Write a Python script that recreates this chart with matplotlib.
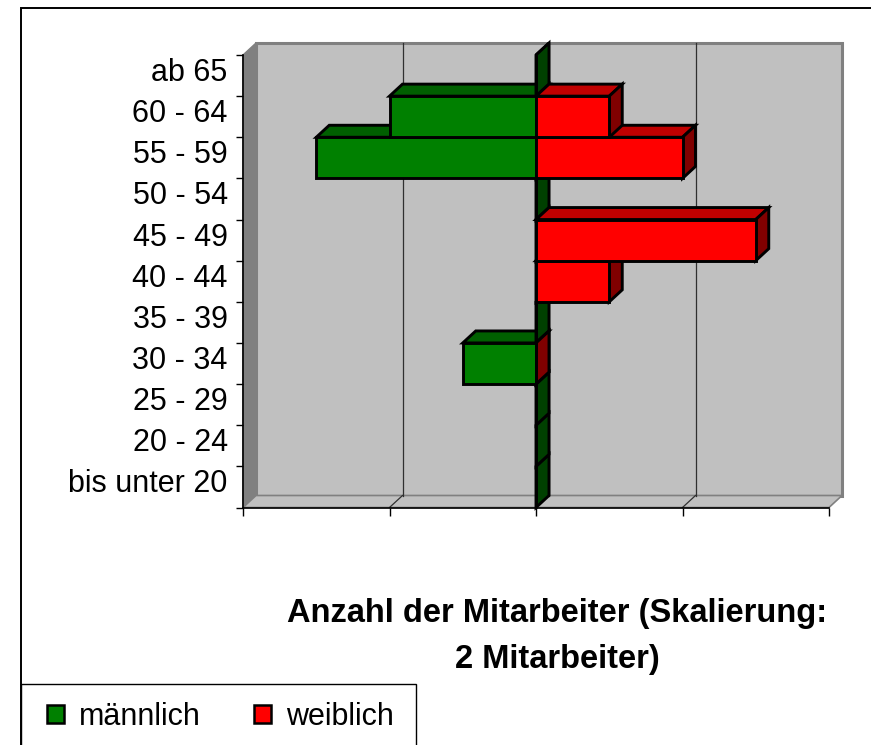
import matplotlib
matplotlib.use("Agg")
import matplotlib.pyplot as plt
from matplotlib.patches import Polygon, Rectangle, Patch
import numpy as np

# ---------------- data ----------------
categories = ["bis unter 20", "20 - 24", "25 - 29", "30 - 34", "35 - 39",
              "40 - 44", "45 - 49", "50 - 54", "55 - 59", "60 - 64", "ab 65"]
maennlich = [0, 0, 0, 1, 0, 0, 0, 0, 3, 2, 0]
weiblich = [0, 0, 0, 0, 0, 1, 3, 0, 2, 1, 0]
x_ticks = [-4, -2, 0, 2, 4]
series_labels = ["männlich", "weiblich"]
title_lines = ["Anzahl der Mitarbeiter (Skalierung:", "2 Mitarbeiter)"]

# ---------------- styles ----------------
GREEN, GREEN_TOP, GREEN_SIDE = "#008000", "#006000", "#004000"
RED, RED_TOP, RED_SIDE = "#FF0000", "#C00000", "#800000"
WALL, WALL_DARK = "#C0C0C0", "#808080"
FONT = ["Liberation Sans", "DejaVu Sans"]
BAR_LW = 2.1

W, H = 871, 745
fig = plt.figure(figsize=(W / 100, H / 100), dpi=100)
fig.patch.set_facecolor("white")


def fx(px):
    return px / W


def fy(py):
    return 1 - py / H


# front plane of the 3-D box
L, R, T, B = 243, 829, 55, 507.5
ax = fig.add_axes([fx(L), fy(B), fx(R) - fx(L), fy(T) - fy(B)])
n = len(categories)
ax.set_xlim(x_ticks[0], x_ticks[-1])
ax.set_ylim(0, n)
ax.patch.set_visible(False)

# depth offset (13 px right, 12 px up) in data units
DX = 13 / ((R - L) / (x_ticks[-1] - x_ticks[0]))
DY = 12 / ((B - T) / n)
x0, x1 = x_ticks[0], x_ticks[-1]

# walls
ax.add_patch(Rectangle((x0 + DX, DY), x1 - x0, n, fc=WALL, ec=WALL_DARK,
                       lw=2.2, clip_on=False, zorder=0.5))
ax.add_patch(Polygon([(x0, 0), (x0 + DX, DY), (x0 + DX, n + DY), (x0, n)],
                     closed=True, fc=WALL_DARK, ec=WALL_DARK, lw=1,
                     clip_on=False, zorder=0.6))
ax.add_patch(Polygon([(x0, 0), (x1, 0), (x1 + DX, DY), (x0 + DX, DY)],
                     closed=True, fc=WALL, ec=WALL_DARK, lw=1.2,
                     clip_on=False, zorder=0.6))

# gridlines on back wall and floor
for xt in x_ticks[1:-1]:
    ax.plot([xt + DX, xt + DX], [DY, n + DY], color="#303030", lw=0.9,
            clip_on=False, zorder=0.8)
    ax.plot([xt, xt + DX], [0, DY], color="#303030", lw=0.9,
            clip_on=False, zorder=0.8)

EDGE = dict(ec="black", lw=BAR_LW, clip_on=False, joinstyle="miter")

# top and side faces, painted bottom-up
for i in range(n):
    m, f = maennlich[i], weiblich[i]
    # male box spans x in [-m, 0]
    ax.add_patch(Polygon([(-m, i + 1), (0, i + 1), (DX, i + 1 + DY),
                          (-m + DX, i + 1 + DY)], closed=True, fc=GREEN_TOP,
                         zorder=2, **EDGE))
    ax.add_patch(Polygon([(0, i), (DX, i + DY), (DX, i + 1 + DY), (0, i + 1)],
                         closed=True, fc=GREEN_SIDE, zorder=2, **EDGE))
    # female box spans x in [0, f]
    if f > 0 or m > 0:
        ax.add_patch(Polygon([(0, i + 1), (f, i + 1), (f + DX, i + 1 + DY),
                              (DX, i + 1 + DY)], closed=True, fc=RED_TOP,
                             zorder=2.1, **EDGE))
        ax.add_patch(Polygon([(f, i), (f + DX, i + DY), (f + DX, i + 1 + DY),
                              (f, i + 1)], closed=True, fc=RED_SIDE,
                             zorder=2.1, **EDGE))

# front faces
yc = np.arange(n) + 0.5
ax.barh(yc, -np.array(maennlich), height=1, left=0, color=GREEN,
        edgecolor="black", linewidth=BAR_LW, zorder=3, clip_on=False)
ax.barh(yc, np.array(weiblich), height=1, left=0, color=RED,
        edgecolor="black", linewidth=BAR_LW, zorder=3.1, clip_on=False)

# axes
for s in ["top", "right"]:
    ax.spines[s].set_visible(False)
for s in ["left", "bottom"]:
    ax.spines[s].set_color("black")
    ax.spines[s].set_linewidth(1.2)
    ax.spines[s].set_zorder(4)

ax.set_xticks(x_ticks)
ax.set_xticklabels([])
ax.tick_params(axis="x", direction="out", length=6, width=1, color="black")

ax.set_yticks(yc + DY / 2)
ax.set_yticklabels(categories, fontsize=22, family=FONT)
ax.set_yticks(np.arange(n + 1), minor=True)
ax.tick_params(axis="y", which="major", length=0, pad=11)
ax.tick_params(axis="y", which="minor", direction="out", length=5, width=1,
               color="black")

# axis title (below the chart)
fig.text(fx(557), fy(622), title_lines[0], ha="center", va="baseline",
         fontsize=23.5, fontweight="bold", family=FONT)
fig.text(fx(557), fy(668), title_lines[1], ha="center", va="baseline",
         fontsize=23.5, fontweight="bold", family=FONT)

# outer chart frame
fig.patches.append(Rectangle((fx(21), fy(760)), 1.05 - fx(21), fy(8) - fy(760),
                             transform=fig.transFigure, fill=False,
                             ec="black", lw=1.4, zorder=0))
# legend box
fig.patches.append(Rectangle((fx(21), fy(760)), fx(416) - fx(21),
                             fy(684) - fy(760), transform=fig.transFigure,
                             fill=False, ec="black", lw=1.0, zorder=5))

handles = [Patch(fc=GREEN, ec="black", lw=1.8),
           Patch(fc=RED, ec="black", lw=1.8)]
fig.legend(handles, series_labels, loc="center left",
           bbox_to_anchor=(fx(47), fy(717)), ncol=2, frameon=False,
           prop={"family": FONT, "size": 22}, handlelength=0.55,
           handleheight=0.55, handletextpad=0.5, columnspacing=1.75,
           borderpad=0, borderaxespad=0)

fig.savefig("out.png", dpi=100)
